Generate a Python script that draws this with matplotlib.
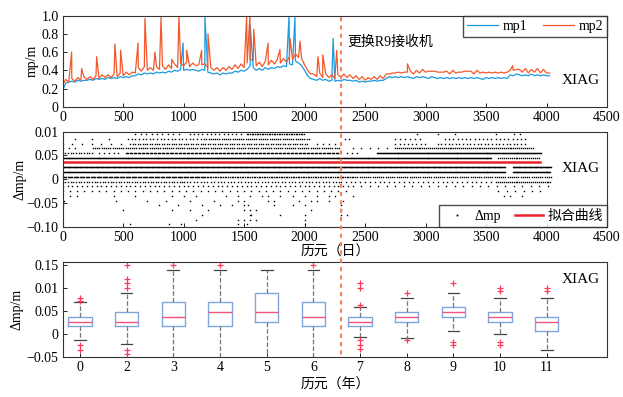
import numpy as np
import matplotlib.pyplot as plt
from matplotlib.lines import Line2D

plt.rcParams['font.family'] = ['Liberation Serif', 'Noto Sans CJK SC', 'DejaVu Sans']
plt.rcParams['font.size'] = 10
plt.rcParams['axes.unicode_minus'] = True

# ---------------- top panel: mp1 / mp2 (sampled every 25 days) ----------------
sample_days = np.arange(0, 4050, 25)
mp2 = [0.24, 0.30, 0.27, 0.31, 0.28, 0.32, 0.29, 0.33,
       0.30, 0.33, 0.30, 0.34, 0.31, 0.35, 0.32, 0.35,
       0.32, 0.36, 0.33, 0.37, 0.34, 0.38, 0.35, 0.38,
       0.37, 0.43, 0.39, 0.44, 0.40, 0.43, 0.40, 0.44,
       0.41, 0.45, 0.41, 0.46, 0.42, 0.47, 0.43, 0.48,
       0.45, 0.49, 0.44, 0.48, 0.45, 0.46, 0.46, 0.47,
       0.43, 0.43, 0.40, 0.43, 0.39, 0.43, 0.40, 0.44,
       0.41, 0.46, 0.42, 0.47, 0.43, 0.48, 0.52, 0.51,
       0.45, 0.49, 0.44, 0.50, 0.46, 0.51, 0.47, 0.52,
       0.48, 0.53, 0.49, 0.55, 0.52, 0.58, 0.54, 0.53,
       0.46, 0.40, 0.36, 0.36, 0.33, 0.37, 0.32, 0.36,
       0.32, 0.35, 0.31, 0.35, 0.32, 0.36, 0.32, 0.35,
       0.31, 0.34, 0.30, 0.33, 0.29, 0.32, 0.30, 0.33,
       0.30, 0.34, 0.31, 0.36, 0.36, 0.37, 0.37, 0.38,
       0.37, 0.38, 0.38, 0.39, 0.36, 0.40, 0.37, 0.41,
       0.38, 0.39, 0.39, 0.39, 0.38, 0.38, 0.38, 0.39,
       0.36, 0.40, 0.37, 0.38, 0.38, 0.39, 0.39, 0.39,
       0.36, 0.40, 0.37, 0.38, 0.37, 0.38, 0.37, 0.38,
       0.37, 0.38, 0.37, 0.38, 0.40, 0.40, 0.41, 0.41,
       0.38, 0.42, 0.37, 0.41, 0.38, 0.42, 0.37, 0.41,
       0.37, 0.37]
mp1 = [0.18, 0.26, 0.27, 0.28, 0.27, 0.29, 0.28, 0.29,
       0.29, 0.30, 0.29, 0.31, 0.30, 0.31, 0.30, 0.32,
       0.31, 0.32, 0.31, 0.33, 0.32, 0.33, 0.32, 0.34,
       0.34, 0.36, 0.35, 0.37, 0.36, 0.37, 0.36, 0.38,
       0.37, 0.38, 0.37, 0.39, 0.38, 0.40, 0.39, 0.41,
       0.40, 0.41, 0.40, 0.41, 0.40, 0.39, 0.41, 0.40,
       0.38, 0.37, 0.36, 0.37, 0.35, 0.37, 0.36, 0.37,
       0.37, 0.39, 0.38, 0.40, 0.39, 0.41, 0.45, 0.43,
       0.40, 0.42, 0.40, 0.43, 0.41, 0.43, 0.42, 0.44,
       0.43, 0.45, 0.44, 0.47, 0.46, 0.50, 0.48, 0.45,
       0.40, 0.34, 0.31, 0.30, 0.29, 0.31, 0.29, 0.30,
       0.28, 0.29, 0.28, 0.29, 0.28, 0.30, 0.29, 0.29,
       0.28, 0.29, 0.27, 0.28, 0.27, 0.28, 0.28, 0.29,
       0.28, 0.29, 0.29, 0.31, 0.33, 0.32, 0.33, 0.32,
       0.33, 0.32, 0.33, 0.32, 0.31, 0.33, 0.32, 0.33,
       0.32, 0.31, 0.33, 0.32, 0.31, 0.32, 0.31, 0.32,
       0.31, 0.32, 0.31, 0.32, 0.31, 0.32, 0.31, 0.32,
       0.31, 0.32, 0.31, 0.30, 0.32, 0.31, 0.32, 0.31,
       0.32, 0.31, 0.32, 0.31, 0.35, 0.34, 0.36, 0.35,
       0.34, 0.35, 0.34, 0.36, 0.34, 0.35, 0.34, 0.35,
       0.34, 0.34]
mp2_spike_days = [74, 157, 281, 432, 479, 623, 680, 763, 813, 901, 961, 1025, 1149,
                  1201, 1521, 1548, 1580, 1698, 1796, 1880, 1962, 2111, 2150, 2265,
                  2850, 3720]
mp2_spike_vals = [0.60, 0.42, 0.55, 0.69, 0.62, 0.70, 0.97, 0.60, 0.98, 0.52, 0.99, 0.62,
                  0.62, 0.80, 1.00, 1.00, 0.85, 0.70, 0.63, 0.75, 0.72, 0.55, 0.57, 0.62,
                  0.47, 0.45]
mp1_spike_days = [995, 1176, 1550, 1871, 1920, 2236]
mp1_spike_vals = [0.70, 0.99, 0.90, 1.00, 0.98, 0.75]

receiver_change_day = 2300

# ---------------- middle panel: delta mp dots ----------------
# (level, start day, end day, step) runs of dots
dot_runs = [
    (0.095, 600, 1000, 45), (0.095, 1050, 1480, 35), (0.095, 1520, 2010, 14),
    (0.085, 100, 500, 140), (0.085, 540, 1170, 30), (0.085, 1170, 2040, 18),
    (0.085, 2330, 2400, 35), (0.085, 2750, 2990, 40), (0.085, 3160, 3860, 35),
    (0.075, 0, 500, 80), (0.075, 560, 2040, 20), (0.075, 2100, 2300, 50),
    (0.075, 2750, 3000, 35), (0.075, 3100, 3850, 30),
    (0.065, 0, 150, 50), (0.065, 250, 2300, 18), (0.065, 2400, 2700, 70),
    (0.065, 2750, 3900, 16),
    (0.055, 0, 250, 22), (0.055, 300, 500, 40), (0.055, 520, 2300, 11),
    (0.055, 2350, 2450, 40), (0.055, 2600, 3960, 8),
    (0.045, 0, 3550, 8), (0.045, 3600, 3950, 16),
    (0.025, 0, 3660, 7), (0.025, 3720, 4040, 7),
    (0.015, 0, 3660, 8), (0.015, 3720, 4040, 8),
    (0.005, 0, 1200, 10), (0.005, 1200, 2400, 14), (0.005, 2400, 4040, 18),
    (-0.005, 0, 1000, 22), (-0.005, 1000, 2300, 28), (-0.005, 2300, 3600, 40),
    (-0.005, 3600, 4040, 16),
    (-0.015, 0, 2400, 40), (-0.015, 2400, 4040, 70),
    (-0.025, 0, 2350, 60), (-0.025, 3600, 4000, 70),
]
sparse_dots = {
    -0.035: [60, 120, 420, 600, 900, 1000, 1100, 1350, 1450, 1550, 1650, 1700, 1800,
             1900, 2000, 2100, 2200, 2250, 2400, 3650, 3700, 3800],
    -0.045: [10, 440, 700, 850, 1050, 1250, 1450, 1500, 1700, 1750, 1950, 2050, 2100,
             2200, 2320],
    -0.055: [5, 800, 950, 1150, 1300, 1400, 1500, 1530, 1750, 1900, 2000, 2300],
    -0.065: [500, 900, 1050, 1200, 1500, 1550, 1600, 2050, 2300],
    -0.075: [1150, 1550, 1560, 1800, 2000, 2300, 2350],
    -0.085: [1100, 1450, 1500, 1550, 1600, 2000],
    -0.095: [560, 880, 980, 1450, 1520, 2000],
    0.095: [2930, 3100, 3240, 3580, 3730, 3780],
}
fit_days = [0, 3950]
fit_vals = [0.036, 0.036]

# ---------------- bottom panel: yearly box plots ----------------
years = ['0', '2', '3', '4', '5', '6', '7', '8', '9', '10', '11']
q1 = [0.018, 0.018, 0.018, 0.018, 0.027, 0.018, 0.018, 0.027, 0.038, 0.027, 0.007]
med = [0.026, 0.026, 0.038, 0.049, 0.049, 0.038, 0.027, 0.038, 0.049, 0.038, 0.027]
q3 = [0.038, 0.049, 0.069, 0.069, 0.089, 0.069, 0.038, 0.049, 0.059, 0.049, 0.038]
wlo = [-0.013, -0.021, -0.06, -0.06, -0.06, -0.06, -0.005, -0.008, 0.007, 0.000, -0.034]
whi = [0.069, 0.089, 0.139, 0.139, 0.139, 0.139, 0.059, 0.079, 0.089, 0.079, 0.079]
fliers = [
    [0.079, 0.072, -0.023, -0.034],
    [0.150, 0.120, 0.111, 0.100, -0.034, -0.043],
    [0.150],
    [0.150],
    [],
    [0.150],
    [0.064, 0.100, 0.111, -0.013, -0.023, -0.033],
    [0.089, -0.013],
    [0.111, -0.016, -0.023],
    [0.100, 0.093, -0.016, -0.023],
    [0.100, 0.093],
]

# ---------------- figure ----------------
W, H = 623, 397
fig = plt.figure(figsize=(W / 100, H / 100), dpi=100)
ax1 = fig.add_axes([62.7 / W, 1 - 106.7 / H, 544.3 / W, 91 / H])
ax2 = fig.add_axes([62.7 / W, 1 - 226.7 / H, 544.3 / W, 95 / H])
ax3 = fig.add_axes([62.7 / W, 1 - 357.3 / H, 544.3 / W, 95 / H])

blue = '#1a9ae0'
orange = '#f4582a'


def with_spikes(base, sd, sv):
    x = np.concatenate([sample_days, sd])
    y = np.concatenate([base, sv])
    o = np.argsort(x, kind='stable')
    return x[o], y[o]


x1, y1 = with_spikes(mp1, mp1_spike_days, mp1_spike_vals)
x2, y2 = with_spikes(mp2, mp2_spike_days, mp2_spike_vals)
ax1.plot(x1, y1, color=blue, lw=0.9, label='mp1')
ax1.plot(x2, y2, color=orange, lw=0.9, label='mp2')
ax1.set_xlim(0, 4500)
ax1.set_ylim(0, 1)
ax1.set_xticks(range(0, 4501, 500))
ax1.set_yticks([0, 0.2, 0.4, 0.6, 0.8, 1.0])
ax1.set_yticklabels(['0', '0.2', '0.4', '0.6', '0.8', '1.0'])
ax1.set_ylabel('mp/m', labelpad=2)
ax1.text(2350, 0.71, '更换R9接收机', fontsize=10, va='center')
ax1.text(0.917, 0.29, 'XIAG', transform=ax1.transAxes, fontsize=11, va='center')
ax1.legend(loc='upper right', bbox_to_anchor=(1, 1), borderaxespad=0, ncol=2,
           fancybox=False, edgecolor='#222222', handlelength=2.2, columnspacing=1.2,
           fontsize=10, borderpad=0.3, handletextpad=0.3)

# middle
dx, dy = [], []
for lev, a, b, st in dot_runs:
    d = np.arange(a, b, st)
    dx.extend(d)
    dy.extend([lev] * len(d))
for lev, days in sparse_dots.items():
    dx.extend(days)
    dy.extend([lev] * len(days))
ax2.plot(dx, dy, 's', color='black', ms=1.0, mew=0, label='Δmp')
ax2.plot(fit_days, fit_vals, color='#e8222a', lw=1.8, label='拟合曲线')
ax2.set_xlim(0, 4500)
ax2.set_ylim(-0.10, 0.10)
ax2.set_xticks(range(0, 4501, 500))
ax2.set_yticks([-0.10, -0.05, 0, 0.05, 0.10])
ax2.set_yticklabels(['−0.10', '−0.05', '0', '0.05', '0.01'])
ax2.set_ylabel('Δmp/m', labelpad=0)
ax2.set_xlabel('历元（日）', labelpad=1)
ax2.text(0.917, 0.615, 'XIAG', transform=ax2.transAxes, fontsize=11, va='center')
ax2.legend(loc='lower right', bbox_to_anchor=(1, 0), borderaxespad=0, ncol=2,
           fancybox=False, edgecolor='#222222', handlelength=2.0, columnspacing=1.0,
           fontsize=10, borderpad=0.3, handletextpad=0.3, markerscale=1.3)

# bottom
stats = []
for i in range(len(years)):
    stats.append(dict(med=med[i], q1=q1[i], q3=q3[i], whislo=wlo[i], whishi=whi[i],
                      fliers=fliers[i]))
ax3.bxp(stats, positions=range(1, len(years) + 1), widths=0.5, showfliers=True,
        boxprops=dict(color='#7fa6dd', lw=1.0),
        medianprops=dict(color='#f2557c', lw=1.0),
        whiskerprops=dict(color='#777777', lw=0.9, ls='--'),
        capprops=dict(color='#444444', lw=0.9),
        flierprops=dict(marker='+', markeredgecolor='#ff3b5c', markersize=5, mew=0.9))
ax3.set_xlim(0.63, 12.29)
ax3.set_ylim(-0.05, 0.156)
ax3.set_xticks(range(1, len(years) + 1))
ax3.set_xticklabels(years)
ax3.set_yticks([-0.05, 0, 0.05, 0.10, 0.15])
ax3.set_yticklabels(['−0.05', '0', '0.05', '0.01', '0.15'])
ax3.set_ylabel('Δmp/m', labelpad=2)
ax3.set_xlabel('历元（年）', labelpad=3)
ax3.text(0.917, 0.824, 'XIAG', transform=ax3.transAxes, fontsize=11, va='center')

for ax in (ax1, ax2, ax3):
    ax.tick_params(direction='in', length=3, width=0.6, pad=3, labelsize=10)
    for s in ax.spines.values():
        s.set_linewidth(0.8)
        s.set_color('#333333')

# dashed line marking the receiver change, across all panels
xd = ax1.transData.transform((receiver_change_day, 0))[0]
xf = fig.transFigure.inverted().transform((xd, 0))[0]
fig.add_artist(Line2D([xf, xf], [1 - 17 / H, 1 - 357 / H], transform=fig.transFigure,
                      color='#f4845f', lw=1.5, ls=(0, (2, 2))))

fig.savefig('out.png', dpi=100)
